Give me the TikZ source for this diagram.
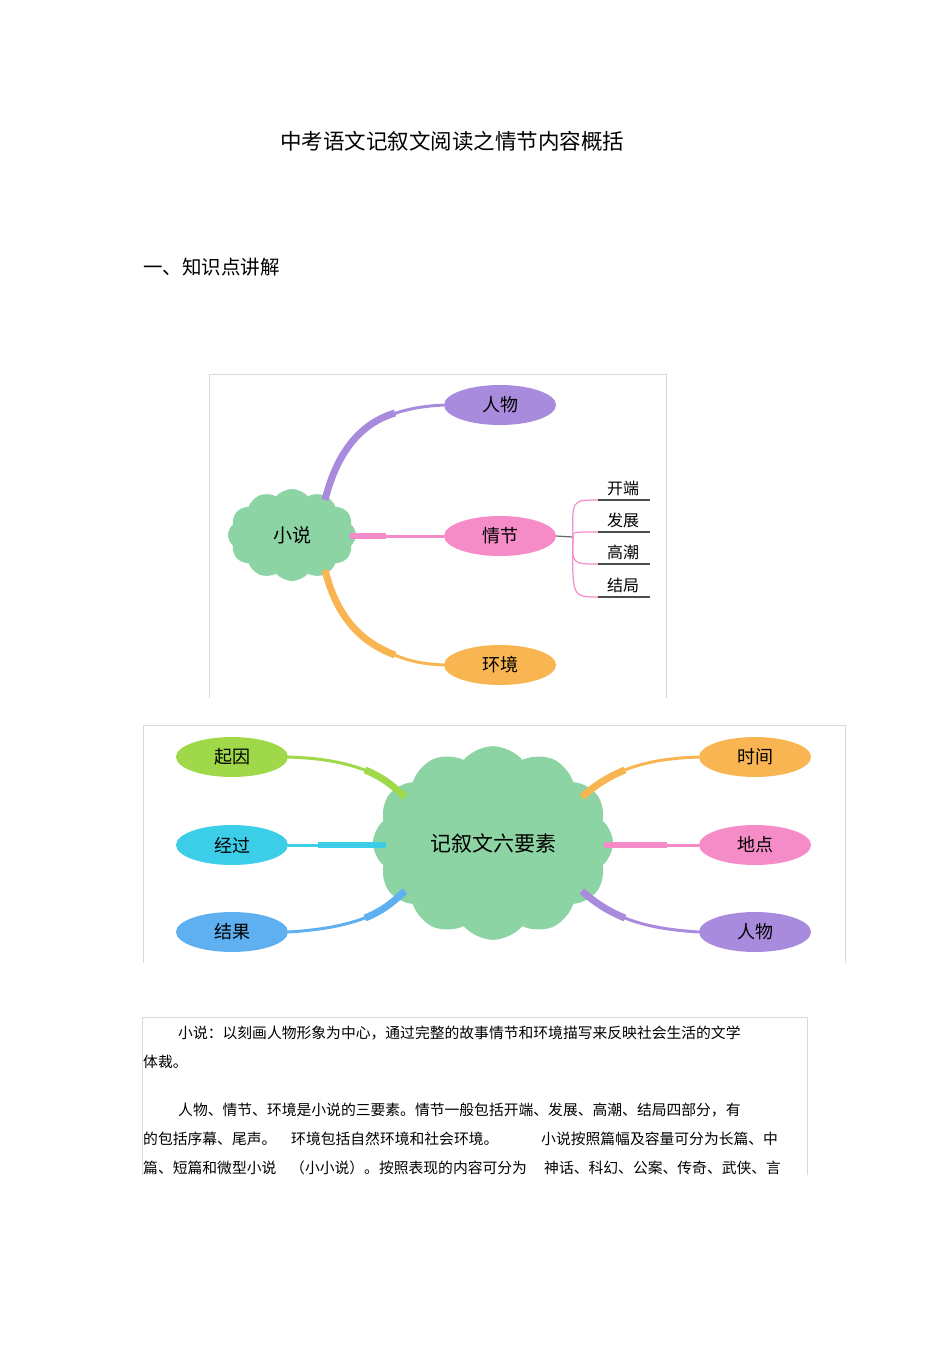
\documentclass[tikz,border=0pt]{standalone}
\usepackage{fontspec}
\setmainfont{Noto Sans CJK SC}
\usetikzlibrary{shapes.symbols,shapes.geometric}
\definecolor{cgreen}{HTML}{8CD4A4}
\definecolor{cpurple}{HTML}{A98BDD}
\definecolor{cpink}{HTML}{F58CC8}
\definecolor{corange}{HTML}{F8B551}
\definecolor{clime}{HTML}{9FD848}
\definecolor{ccyan}{HTML}{3CCDE8}
\definecolor{cblue}{HTML}{5FB0F0}
\tikzset{
 cloudbox/.style={cloud,cloud puffs=12,cloud puff arc=100,fill=cgreen,draw=none,inner sep=0pt,font=\fontsize{19}{19}\selectfont},
 ell/.style={ellipse,minimum width=112pt,minimum height=40pt,inner sep=0pt,font=\fontsize{18}{18}\selectfont},
 frame/.style={draw=black!15,line width=0.8pt},
 body/.style={anchor=base west,inner sep=0pt,font=\fontsize{14.8}{14.8}\selectfont},
 sub/.style={inner sep=0pt,font=\fontsize{16}{16}\selectfont},
}
\begin{document}
\begin{tikzpicture}[x=1pt,y=-1pt]
\useasboundingbox (0,0) rectangle (950,1345);
\node[font=\fontsize{21.5}{21.5}\selectfont] (title) at (452,141) {中考语文记叙文阅读之情节内容概括};
\node[anchor=west,inner sep=0pt,font=\fontsize{19.5}{19.5}\selectfont] (sec) at (143,267) {一、知识点讲解};
% diagram 1
\draw[frame] (209,698) -- (209,374) -- (666,374) -- (666,698);
\node[cloudbox,minimum width=128pt,minimum height=92pt] (xs) at (292,535) {小说};
\node[ell,fill=cpurple] (rw) at (500,405) {人物};
\node[ell,fill=cpink] (qj) at (500,536) {情节};
\node[ell,fill=corange] (hj) at (500,665) {环境};
\draw[cpurple,line width=7pt] (325,500) .. controls (335,460) and (355,425) .. (395,413);
\draw[cpurple,line width=3pt] (390,415) .. controls (410,408) and (425,406) .. (rw.west);
\draw[corange,line width=7pt] (325,570) .. controls (335,610) and (355,640) .. (395,655);
\draw[corange,line width=3pt] (390,653) .. controls (410,662) and (425,664) .. (rw.west |- hj.west);
\draw[cpink,line width=6pt] (350,536) -- (386,536);
\draw[cpink,line width=3pt] (386,536) -- (qj.west);
\draw[black!60,line width=1.2pt] (qj.east) -- (573,537) coordinate (br);
\foreach \y/\t/\n in {500/开端/a,532/发展/b,564/高潮/c,597/结局/d}{
  \coordinate (l\n) at (598,\y);
  \draw[cpink,line width=1.2pt] (br) .. controls (572,\y) .. (l\n);
  \draw[black!70,line width=1.5pt] (l\n) -- (650,\y) coordinate (r\n);
  \node[sub] (t\n) at (623,\y-12) {\t};
}
% diagram 2
\draw[frame] (143,963) -- (143,725) -- (845,725) -- (845,963);
\node[cloudbox,minimum width=240pt,minimum height=175pt,font=\fontsize{21}{21}\selectfont] (six) at (493,843) {记叙文六要素};
\node[ell,fill=clime] (qy) at (232,757) {起因};
\node[ell,fill=ccyan] (jg) at (232,845) {经过};
\node[ell,fill=cblue] (jgu) at (232,932) {结果};
\node[ell,fill=corange] (sj) at (755,757) {时间};
\node[ell,fill=cpink] (dd) at (755,845) {地点};
\node[ell,fill=cpurple] (rw2) at (755,932) {人物};
\draw[clime,line width=3pt] (qy.east) .. controls (320,758) and (345,762) .. (370,772);
\draw[clime,line width=7pt] (365,770) .. controls (385,778) and (395,788) .. (405,797);
\draw[ccyan,line width=3pt] (jg.east) -- (320,845);
\draw[ccyan,line width=6pt] (318,845) -- (386,845);
\draw[cblue,line width=3pt] (jgu.east) .. controls (320,930) and (345,926) .. (370,916);
\draw[cblue,line width=7pt] (365,918) .. controls (385,910) and (395,900) .. (405,891);
\draw[corange,line width=3pt] (sj.west) .. controls (668,758) and (643,762) .. (620,772);
\draw[corange,line width=7pt] (625,770) .. controls (605,778) and (592,788) .. (582,797);
\draw[cpink,line width=3pt] (dd.west) -- (665,845);
\draw[cpink,line width=6pt] (667,845) -- (604,845);
\draw[cpurple,line width=3pt] (rw2.west) .. controls (668,930) and (643,926) .. (620,916);
\draw[cpurple,line width=7pt] (625,918) .. controls (605,910) and (592,900) .. (582,891);
% text block
\draw[frame] (142,1175) -- (142,1017) -- (807,1017) -- (807,1175);
\node[body] (p1) at (178,1038) {小说：以刻画人物形象为中心，通过完整的故事情节和环境描写来反映社会生活的文学};
\node[body] (p2) at (143,1067) {体裁。};
\node[body] (p3) at (178,1115) {人物、情节、环境是小说的三要素。情节一般包括开端、发展、高潮、结局四部分，有};
\node[body] (p4a) at (143,1144) {的包括序幕、尾声。};
\node[body] (p4b) at (291,1144) {环境包括自然环境和社会环境。};
\node[body] (p4c) at (541,1144) {小说按照篇幅及容量可分为长篇、中};
\node[body] (p5a) at (143,1173) {篇、短篇和微型小说};
\node[body] (p5b) at (290,1173) {（小小说）。按照表现的内容可分为};
\node[body] (p5c) at (544,1173) {神话、科幻、公案、传奇、武侠、言};
\end{tikzpicture}
\end{document}
